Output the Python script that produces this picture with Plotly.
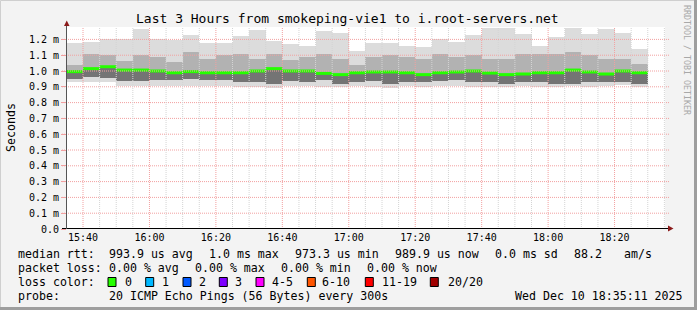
import plotly.graph_objects as go
import pandas as pd

# ---------------- data (milliseconds) ----------------
slot_start = ["15:35", "15:40", "15:45", "15:50", "15:55", "16:00", "16:05", "16:10", "16:15",
              "16:20", "16:25", "16:30", "16:35", "16:40", "16:45", "16:50", "16:55", "17:00",
              "17:05", "17:10", "17:15", "17:20", "17:25", "17:30", "17:35", "17:40", "17:45",
              "17:50", "17:55", "18:00", "18:05", "18:10", "18:15", "18:20", "18:25"]

rtt_max = [1.178, 1.186, 1.200, 1.200, 1.266, 1.200, 1.196, 1.228, 1.180, 1.175, 1.220, 1.257,
           1.190, 1.170, 1.158, 1.253, 1.240, 1.127, 1.180, 1.180, 1.158, 1.150, 1.200, 1.183,
           1.228, 1.272, 1.272, 1.236, 1.158, 1.215, 1.272, 1.236, 1.268, 1.243, 1.140]
rtt_q75 = [1.040, 1.110, 1.100, 1.061, 1.099, 1.089, 1.057, 1.120, 1.078, 1.100, 1.110, 1.078,
           1.110, 1.067, 1.089, 1.110, 1.078, 1.036, 1.089, 1.100, 1.089, 1.078, 1.110, 1.089,
           1.100, 1.078, 1.078, 1.110, 1.110, 1.110, 1.120, 1.100, 1.078, 1.078, 1.046]
rtt_med = [0.996, 1.015, 1.027, 1.006, 1.006, 1.000, 0.989, 0.996, 0.989, 0.989, 0.989, 1.000,
           1.015, 1.000, 1.000, 0.985, 0.977, 0.989, 0.994, 0.994, 0.989, 0.977, 0.989, 0.994,
           1.000, 0.987, 0.977, 0.981, 0.989, 0.989, 1.006, 0.994, 0.981, 1.000, 0.989]
rtt_q25 = [0.947, 0.962, 0.956, 0.935, 0.935, 0.941, 0.941, 0.951, 0.945, 0.941, 0.930, 0.930,
           0.920, 0.935, 0.930, 0.941, 0.920, 0.930, 0.935, 0.920, 0.930, 0.930, 0.935, 0.941,
           0.930, 0.930, 0.920, 0.930, 0.930, 0.920, 0.920, 0.930, 0.930, 0.930, 0.920]
rtt_min = [0.930, 0.930, 0.928, 0.908, 0.908, 0.907, 0.907, 0.907, 0.907, 0.905, 0.897, 0.897,
           0.890, 0.905, 0.905, 0.897, 0.897, 0.905, 0.897, 0.890, 0.905, 0.897, 0.905, 0.905,
           0.900, 0.897, 0.897, 0.905, 0.897, 0.900, 0.905, 0.897, 0.905, 0.911, 0.897]

y_tickvals = [0.0, 0.1, 0.2, 0.3, 0.4, 0.5, 0.6, 0.7, 0.8, 0.9, 1.0, 1.1, 1.2]
y_ticktext = ["0.0", "0.1 m", "0.2 m", "0.3 m", "0.4 m", "0.5 m", "0.6 m", "0.7 m",
              "0.8 m", "0.9 m", "1.0 m", "1.1 m", "1.2 m"]

title_text = "Last 3 Hours from smokeping-vie1 to i.root-servers.net"
legend_rows = [
    [(16, "median rtt:"), (107.3, "993.9 us avg"), (207.3, "1.0 ms max"), (293.3, "973.3 us min"),
     (393.3, "989.9 us now"), (493.3, "0.0 ms sd"), (572.3, "88.2"), (621.7, "am/s")],
    [(16, "packet loss:"), (107.3, "0.00 % avg"), (193.3, "0.00 % max"), (279.3, "0.00 % min"),
     (365.0, "0.00 % now")],
    [(16, "loss color:")],
    [(16, "probe:"), (107.3, "20 ICMP Echo Pings (56 Bytes) every 300s"),
     (512.7, "Wed Dec 10 18:35:11 2025")],
]
loss_labels = ["0", "1", "2", "3", "4-5", "6-10", "11-19", "20/20"]
loss_colors = ["#26ff00", "#00b8ff", "#0059ff", "#7e00ff", "#ff00ff", "#ff5500", "#ff0000", "#a10000"]
loss_box_x = [108, 145.7, 183, 219.3, 256, 307.3, 365.3, 430.3]
loss_lbl_x = [123.3, 160, 196.7, 233.3, 270, 320, 380, 446]

# ---------------- geometry ----------------
W, H = 697, 310
PL, PR, PT, PB = 67, 665, 27, 229
DAY = "2025-12-10 "
X0 = pd.Timestamp(DAY + "15:35:11")
X1 = pd.Timestamp(DAY + "18:35:11")
YMAX = (PB - PT) / 158.0


def px(x):
    return (x - PL) / (PR - PL)


def py(y):
    return (PB - y) / (PB - PT)


MONO = "DejaVu Sans Mono"
starts = [pd.Timestamp(DAY + t) for t in slot_start]
centers = [s + pd.Timedelta(seconds=150) for s in starts]
BW = 300000

fig = go.Figure()


def band(lo, hi, color):
    fig.add_trace(go.Bar(x=centers, base=lo, y=[h - l for h, l in zip(hi, lo)], width=BW,
                         marker=dict(color=color, line=dict(width=0)), hoverinfo="skip"))


band(rtt_min, rtt_max, "#dcdcdc")
band(rtt_q25, rtt_q75, "#b2b2b2")
band(rtt_q25, rtt_med, "#747474")

mx, my = [], []
for s, m in zip(starts, rtt_med):
    mx += [s, s + pd.Timedelta(seconds=300), None]
    my += [m, m, None]
fig.add_trace(go.Scatter(x=mx, y=my, mode="lines", line=dict(color="#26ff00", width=3),
                         hoverinfo="skip"))

shapes = []
# horizontal grid (red dotted)
for v in y_tickvals[1:]:
    shapes.append(dict(type="line", xref="paper", yref="y", x0=px(62), x1=px(669), y0=v, y1=v,
                       line=dict(color="#f2a0a0", width=1, dash="1px,1px"), layer="above"))
# vertical grid
t = pd.Timestamp(DAY + "15:40")
while t <= X1:
    major = (t.minute % 20 == 0)
    shapes.append(dict(type="line", xref="x", yref="paper", x0=t, x1=t, y0=0, y1=1,
                       line=dict(color="#f2a0a0" if major else "#d4d4d4", width=1, dash="1px,1px"),
                       layer="above"))
    t += pd.Timedelta(minutes=5)
# axes
shapes.append(dict(type="line", xref="paper", yref="paper", x0=px(62), x1=px(669), y0=py(228.5),
                   y1=py(228.5), line=dict(color="#000000", width=1), layer="above"))
shapes.append(dict(type="line", xref="paper", yref="paper", x0=px(66.5), x1=px(66.5), y0=py(229),
                   y1=py(24), line=dict(color="#555555", width=1), layer="above"))
# arrows
shapes.append(dict(type="path", xref="paper", yref="paper",
                   path=f"M {px(64)} {py(26)} L {px(69.5)} {py(26)} L {px(66.75)} {py(20.5)} Z",
                   fillcolor="#8b1a1a", line=dict(width=0), layer="above"))
shapes.append(dict(type="path", xref="paper", yref="paper",
                   path=f"M {px(668)} {py(225.5)} L {px(668)} {py(231.5)} L {px(673.5)} {py(228.5)} Z",
                   fillcolor="#8b1a1a", line=dict(width=0), layer="above"))
# frame
shapes.append(dict(type="rect", xref="paper", yref="paper", x0=px(0.5), x1=px(696.5), y0=py(0.5),
                   y1=py(309.5), line=dict(color="#cfcfcf", width=1), layer="below"))
shapes.append(dict(type="line", xref="paper", yref="paper", x0=px(0), x1=px(697), y0=py(308.5),
                   y1=py(308.5), line=dict(color="#9e9e9e", width=3), layer="above"))
shapes.append(dict(type="line", xref="paper", yref="paper", x0=px(695.5), x1=px(695.5), y0=py(0),
                   y1=py(310), line=dict(color="#9e9e9e", width=3), layer="above"))
# loss color boxes
for bx, c in zip(loss_box_x, loss_colors):
    shapes.append(dict(type="rect", xref="paper", yref="paper", x0=px(bx), x1=px(bx + 8),
                       y0=py(277.5), y1=py(286.5), fillcolor=c,
                       line=dict(color="#000000", width=1), layer="above"))

ann = []
ann.append(dict(text=title_text, x=px(347.5), y=py(19), xref="paper", yref="paper",
                showarrow=False, xanchor="center", yanchor="middle",
                font=dict(family=MONO, size=13, color="#000")))
ann.append(dict(text="Seconds", x=px(11), y=py(128), xref="paper", yref="paper", textangle=-90,
                showarrow=False, xanchor="center", yanchor="middle",
                font=dict(family=MONO, size=11.6, color="#000")))
ann.append(dict(text="RRDTOOL / TOBI OETIKER", x=px(687), y=py(60), xref="paper", yref="paper",
                textangle=90, showarrow=False, xanchor="center", yanchor="middle",
                font=dict(family=MONO, size=8.3, color="#a8a8a8")))
row_y = [254, 268, 282, 296]
for ry, row in zip(row_y, legend_rows):
    for lx, txt in row:
        ann.append(dict(text=txt, x=px(lx), y=py(ry), xref="paper", yref="paper",
                        showarrow=False, xanchor="left", yanchor="middle",
                        font=dict(family=MONO, size=11.6, color="#000")))
for lx, txt in zip(loss_lbl_x, loss_labels):
    ann.append(dict(text=txt, x=px(lx), y=py(282), xref="paper", yref="paper",
                    showarrow=False, xanchor="left", yanchor="middle",
                    font=dict(family=MONO, size=11.6, color="#000")))

fig.update_layout(
    width=W, height=H, autosize=False,
    margin=dict(l=PL, r=W - PR, t=PT, b=H - PB, pad=0),
    paper_bgcolor="#f3f3f3", plot_bgcolor="#ffffff",
    showlegend=False, barmode="overlay", bargap=0,
    shapes=shapes, annotations=ann,
    xaxis=dict(type="date", range=[X0, X1], tickformat="%H:%M", tick0=DAY + "15:40",
               dtick=1200000, showgrid=False, zeroline=False, showline=False, ticks="",
               ticklabelstandoff=1,
               tickfont=dict(family=MONO, size=10, color="#000"), fixedrange=True),
    yaxis=dict(range=[0, YMAX], tickvals=y_tickvals, ticktext=y_ticktext, showgrid=False,
               zeroline=False, showline=False, ticks="outside", ticklen=5, tickcolor="#f2a0a0",
               tickfont=dict(family=MONO, size=10, color="#000"), fixedrange=True),
)

fig.write_html("out.html")
